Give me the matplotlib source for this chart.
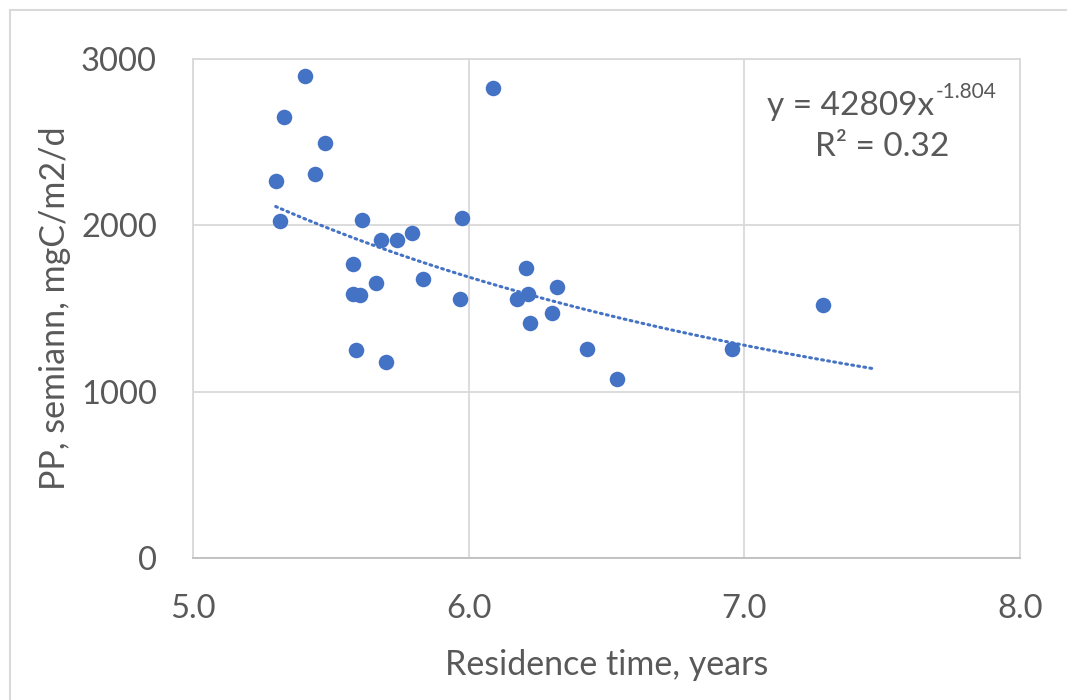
import numpy as np
import matplotlib
matplotlib.use("Agg")
import matplotlib.pyplot as plt
from matplotlib.patches import Rectangle

# residence time (years) vs semiannual PP (mgC/m2/d)
res_time = [5.405, 5.331, 5.479, 5.441, 5.302, 5.316, 5.614, 5.977, 6.090, 5.683,
            5.740, 5.794, 5.579, 5.665, 5.833, 5.581, 5.606, 5.967, 5.591, 5.699,
            6.209, 6.177, 6.214, 6.320, 6.302, 6.222, 6.428, 6.539, 6.954, 7.284]
pp = [2900, 2652, 2492, 2307, 2267, 2026, 2034, 2042, 2823, 1914,
      1914, 1952, 1769, 1651, 1675, 1589, 1580, 1558, 1249, 1177,
      1743, 1558, 1589, 1628, 1472, 1410, 1257, 1077, 1257, 1520]

# power trendline as printed on the chart
coef_a = 42809
coef_b = -1.804
r2 = 0.32
trend_range = (5.30, 7.47)

xticks = [5.0, 6.0, 7.0, 8.0]
yticks = [0, 1000, 2000, 3000]

blue = "#4472C4"
grey_txt = "#595959"
grid_c = "#D9D9D9"

plt.rcParams['font.family'] = ['Lato', 'DejaVu Sans']

fig = plt.figure(figsize=(10.67, 7.0), dpi=100)
# chart area border (only top/left visible in the crop)
fig.patches.append(Rectangle((10 / 1067, -0.1), 1.2, 1.1 - 10 / 700,
                             transform=fig.transFigure, fill=False,
                             edgecolor="#D9D9D9", linewidth=1.5))

ax = fig.add_axes([193 / 1067, (700 - 558) / 700, 827 / 1067, 499 / 700])
ax.set_xlim(5.0, 8.0)
ax.set_ylim(0, 3000)
ax.set_xticks(xticks)
ax.set_yticks(yticks)
ax.set_xticklabels(["%.1f" % t for t in xticks])
ax.set_yticklabels(["%d" % t for t in yticks])
ax.tick_params(length=0, labelsize=23.5, colors=grey_txt)
ax.tick_params(axis='x', pad=26)
ax.tick_params(axis='y', pad=26)
ax.grid(True, color=grid_c, linewidth=1.3)
ax.set_axisbelow(True)
for s in ax.spines.values():
    s.set_color(grid_c)
    s.set_linewidth(1.3)
ax.spines['bottom'].set_color("#BFBFBF")

ax.scatter(res_time, pp, s=125, color=blue, zorder=3, linewidths=0)

tx = np.linspace(trend_range[0], trend_range[1], 100)
ax.plot(tx, coef_a * tx ** coef_b, color=blue, linestyle=(0, (0.6, 1.4)),
        linewidth=2.2, dash_capstyle='round', zorder=2)

eq = ax.text(0.694, 0.906, "y = %dx" % coef_a, transform=ax.transAxes,
             ha='left', va='center', fontsize=24, color=grey_txt)
ax.annotate("%.3f" % coef_b, xy=(1, 0.62), xycoords=eq, xytext=(1, 0),
            textcoords='offset points', ha='left', va='bottom',
            fontsize=15, color=grey_txt)
ax.text(0.833, 0.823, "R² = %.2f" % r2, transform=ax.transAxes,
        ha='center', va='center', fontsize=24, color=grey_txt)

ax.set_xlabel("Residence time, years", fontsize=24.5, color=grey_txt, labelpad=18)
ax.set_ylabel("PP, semiann, mgC/m2/d", fontsize=24.5, color=grey_txt, labelpad=7)

fig.savefig("out.png", dpi=100)
